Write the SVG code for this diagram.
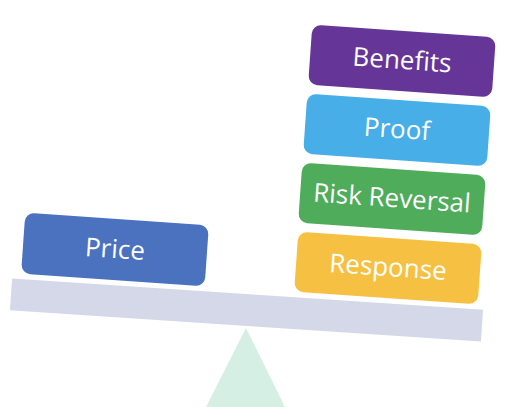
<svg xmlns="http://www.w3.org/2000/svg" width="507" height="407" viewBox="0 0 507 407">
<style>
.lbl{font-family:"Open Sans","Liberation Sans",sans-serif;font-size:26px;fill:#ffffff;text-anchor:middle;dominant-baseline:central}
.box{stroke:none}
</style>
<rect width="507" height="407" fill="#ffffff"/>
<g id="fulcrum"><polygon points="246,328 206,407 285,407" fill="#d5efe5"/></g>
<g id="beam"><rect x="10.5" y="294" width="472" height="32" fill="#d4d8e8" transform="rotate(3.8 246.5 310)"/></g>
<g id="price" transform="rotate(4 115 249)">
<rect class="box" x="23" y="219" width="184" height="61" rx="9" fill="#4a72be"/>
<text class="lbl" x="115" y="248">Price</text></g>
<g id="benefits" transform="rotate(4 402 61)">
<rect class="box" x="310" y="31" width="184" height="60" rx="9" fill="#663598"/>
<text class="lbl" x="402" y="59">Benefits</text></g>
<g id="proof" transform="rotate(4 397 130)">
<rect class="box" x="305" y="100" width="184" height="60" rx="9" fill="#47aee8"/>
<text class="lbl" x="397" y="128">Proof</text></g>
<g id="risk-reversal" transform="rotate(4 392 199)">
<rect class="box" x="300" y="169" width="184" height="60" rx="9" fill="#4fac5b"/>
<text class="lbl" x="392" y="197">Risk Reversal</text></g>
<g id="response" transform="rotate(4 388 268)">
<rect class="box" x="296" y="238" width="184" height="60" rx="9" fill="#f6c143"/>
<text class="lbl" x="388" y="266">Response</text></g>
<g id="connectors"></g>
</svg>
